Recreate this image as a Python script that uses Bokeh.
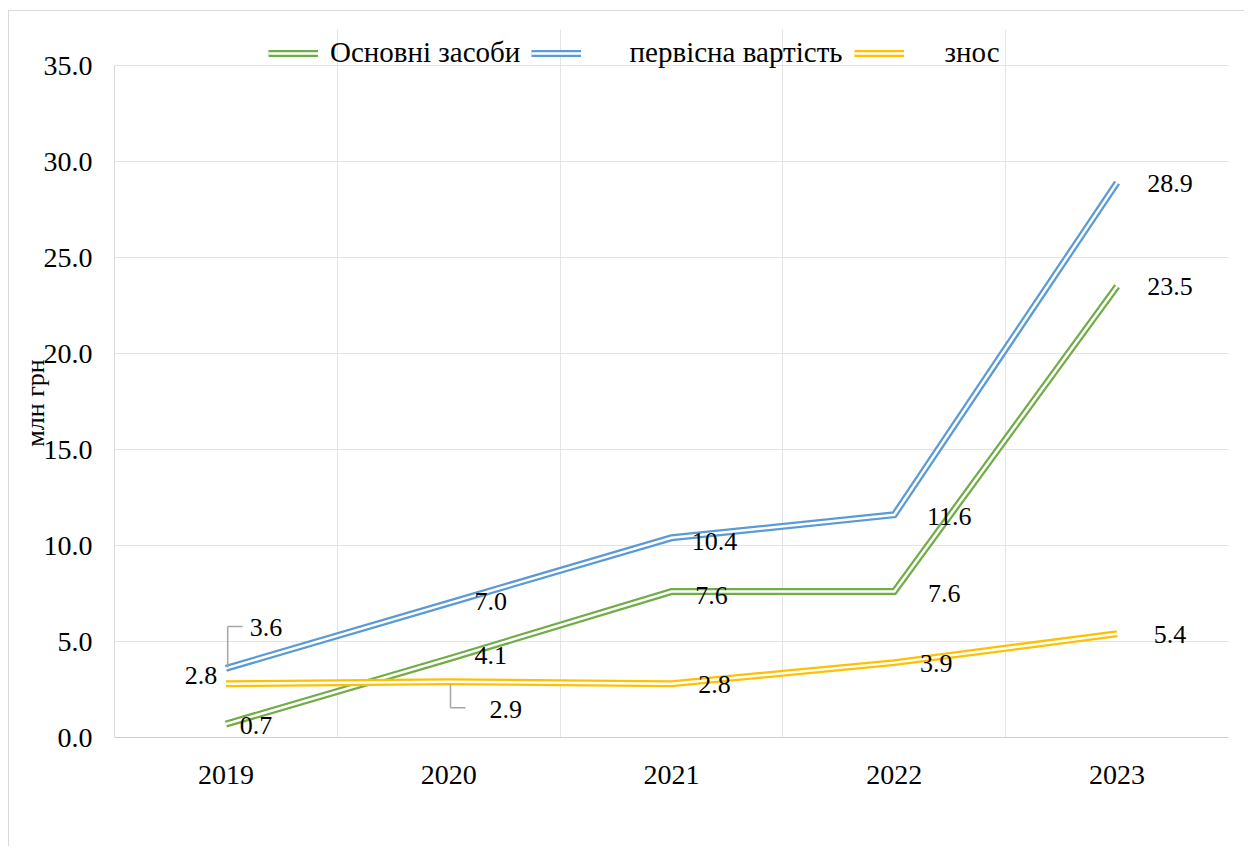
from bokeh.plotting import figure
from bokeh.models import (ColumnDataSource, FactorRange, Range1d, NumeralTickFormatter,
                          FixedTicker, LabelSet, Legend, LegendItem)
from bokeh.transform import dodge
from bokeh.embed import file_html
from bokeh.resources import INLINE

# ---------------- data ----------------
years = ["2019", "2020", "2021", "2022", "2023"]
osnovni = [0.7, 4.1, 7.6, 7.6, 23.5]
pervisna = [3.6, 7.0, 10.4, 11.6, 28.9]
znos = [2.8, 2.9, 2.8, 3.9, 5.4]
series_names = ["Основні засоби", "первісна вартість", "знос"]
y_ticks = [0, 5, 10, 15, 20, 25, 30, 35]
y_max = 35
y_axis_title = "млн грн"

# ---------------- styles ----------------
FONT = "Liberation Serif"
NB = "\u00a0"
colors = ["#70AD47", "#5B9BD5", "#FFC000"]
grid_color = "#E4E4E4"
frame_color = "#D9D9D9"
px_per_y = 672 / 35.0          # screen px per data unit
EXTRA_TOP = 36                 # px of frame kept above the 35.0 line for the legend
FW, FH = 1114, 672 + EXTRA_TOP
ML, MR, MT, MB = 105, 16, 18, 109

label_dx = [[30, 42, 40, 50, 53], [40, 42, 43, 55, 53], [-25, 57, 43, 42, 53]]
label_dy = [[-1, 3, -4, -2, 0], [41, 2, -4, -2, -1], [8, -28, -1, -1, -1]]

p = figure(x_range=FactorRange(*years), y_range=Range1d(0, y_max + EXTRA_TOP / px_per_y),
           frame_width=FW, frame_height=FH, output_backend="svg", toolbar_location=None,
           min_border_left=ML, min_border_right=MR, min_border_top=MT, min_border_bottom=MB)
p.styles = {"border-left": "1px solid #D9D9D9", "border-top": "1px solid #D9D9D9",
            "margin-left": "8px", "margin-top": "10px"}
p.outline_line_color = None
p.background_fill_color = "white"
p.border_fill_color = "white"

# grids (limited to the 0..35 area)
p.ygrid.ticker = FixedTicker(ticks=y_ticks)
p.ygrid.grid_line_color = grid_color
p.xgrid.ticker = FixedTicker(ticks=[0, 1, 2, 3, 4, 5])
p.xgrid.grid_line_color = grid_color
p.xgrid.bounds = (0, y_max)

# axes
p.yaxis.ticker = FixedTicker(ticks=y_ticks)
p.yaxis.formatter = NumeralTickFormatter(format="0.0")
p.yaxis.bounds = (0, y_max)
for ax in (p.xaxis[0], p.yaxis[0]):
    ax.major_tick_line_color = None
    ax.minor_tick_line_color = None
    ax.major_label_text_font = FONT
    ax.major_label_text_font_size = "28px"
    ax.major_label_text_color = "#000000"
p.yaxis.axis_line_color = frame_color
p.xaxis.axis_line_color = "#CFCFCF"
p.yaxis.major_label_standoff = 16
p.xaxis.major_label_standoff = 22
# trailing no-break spaces shift the centred title down to the 0..35 span
p.yaxis.axis_label = y_axis_title + NB * 6
p.yaxis.axis_label_text_font = FONT
p.yaxis.axis_label_text_font_size = "26px"
p.yaxis.axis_label_text_font_style = "normal"
p.yaxis.axis_label_text_color = "#000000"
p.yaxis.axis_label_standoff = -9

# double lines
all_vals = [osnovni, pervisna, znos]
legend_items = []
for i, vals in enumerate(all_vals):
    src = ColumnDataSource(dict(x=years, y=vals))
    outer = p.line("x", "y", source=src, line_color=colors[i], line_width=7,
                   line_join="miter", line_cap="butt")
    inner = p.line("x", "y", source=src, line_color="white", line_width=2.5,
                   line_join="miter", line_cap="butt")
    legend_items.append((outer, inner))

# leader lines (blue 2019, yellow 2020)
lead_x = ["2019", "2020"]
lead_v = [pervisna[0], znos[1]]
lead_start_up = [1, -3]
lead_end_up = [42, -26]
lsrc = ColumnDataSource(dict(
    x=lead_x,
    y0=[v + a / px_per_y for v, a in zip(lead_v, lead_start_up)],
    y1=[v + b / px_per_y for v, b in zip(lead_v, lead_end_up)],
))
p.segment(x0=dodge("x", 0.008, range=p.x_range), y0="y0",
          x1=dodge("x", 0.008, range=p.x_range), y1="y1",
          source=lsrc, line_color="#A6A6A6", line_width=1.5)
p.segment(x0=dodge("x", 0.008, range=p.x_range), y0="y1",
          x1=dodge("x", 0.075, range=p.x_range), y1="y1",
          source=lsrc, line_color="#A6A6A6", line_width=1.5)

# data labels
for i, vals in enumerate(all_vals):
    lsrc2 = ColumnDataSource(dict(x=years, y=vals, t=[f"{v:.1f}" for v in vals],
                                  dx=label_dx[i], dy=label_dy[i]))
    p.add_layout(LabelSet(x="x", y="y", text="t", source=lsrc2, x_offset="dx", y_offset="dy",
                          text_align="center", text_baseline="middle",
                          text_font=FONT, text_font_size="26px", text_color="#000000"))

# legend (inside the frame's top strip)
labels = [series_names[0], NB * 5 + series_names[1], NB * 4 + series_names[2]]
legend = Legend(items=[LegendItem(label=labels[i], renderers=list(legend_items[i]))
                       for i in range(3)],
                orientation="horizontal", location=(154, 668),
                glyph_width=50, glyph_height=24, label_standoff=12, spacing=11,
                padding=0, margin=0, border_line_color=None, background_fill_alpha=0,
                label_text_font=FONT, label_text_font_size="29px", label_text_color="#000000")
p.add_layout(legend, "center")

open("out.html", "w").write(file_html(p, INLINE))
